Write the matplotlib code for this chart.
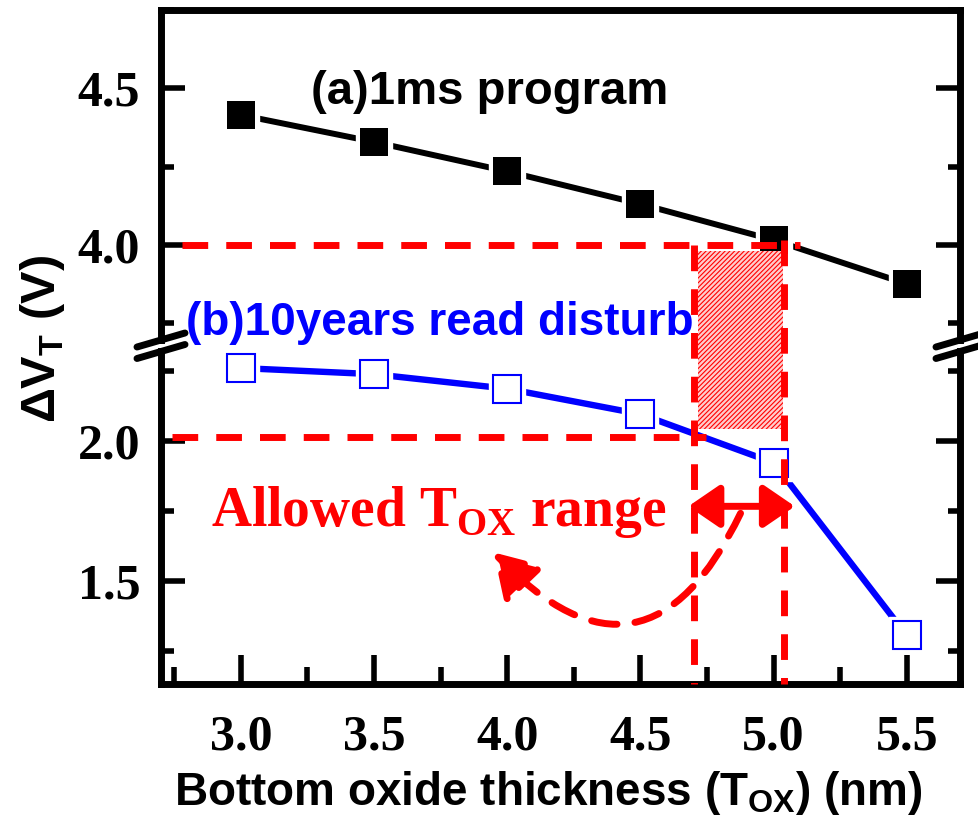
import matplotlib
matplotlib.use("Agg")
import matplotlib.pyplot as plt
from matplotlib.lines import Line2D
from matplotlib.patches import Rectangle, FancyArrowPatch
from matplotlib.ticker import MultipleLocator, FormatStrFormatter

# threshold-voltage shift vs. bottom oxide thickness
tox = [3.0, 3.5, 4.0, 4.5, 5.0, 5.5]
dvt_program = [4.415, 4.329, 4.235, 4.131, 4.016, 3.876]   # (a) 1 ms program
dvt_disturb = [2.262, 2.240, 2.188, 2.097, 1.923, 1.305]   # (b) 10 years read disturb

xticks = [3.0, 3.5, 4.0, 4.5, 5.0, 5.5]
yticks_hi = [4.0, 4.5]
yticks_lo = [1.5, 2.0]

# design window
vt_prog_min = 4.0
vt_dist_max = 2.015
tox_min, tox_max = 4.70, 5.04

RED = (1, 0, 0)
BLUE = (0, 0, 1)

plt.rcParams['font.family'] = ['Liberation Sans', 'DejaVu Sans']
plt.rcParams['font.weight'] = 'bold'
plt.rcParams['axes.labelweight'] = 'bold'
plt.rcParams['mathtext.fontset'] = 'custom'
plt.rcParams['mathtext.rm'] = 'Liberation Sans:bold'
plt.rcParams['mathtext.bf'] = 'Liberation Sans:bold'
plt.rcParams['mathtext.sf'] = 'Liberation Serif:bold'
plt.rcParams['hatch.linewidth'] = 0.8

W, H = 979, 832
fig = plt.figure(figsize=(W / 100, H / 100), dpi=100)


def fx(px):
    return px / W


def fy(py):
    return 1 - py / H


# broken y axis: two stacked axes
x0, x1 = 161, 960
ax_hi = fig.add_axes([fx(x0), fy(340), fx(x1) - fx(x0), fy(10) - fy(340)])
ax_lo = fig.add_axes([fx(x0), fy(684), fx(x1) - fx(x0), fy(351) - fy(684)])

for ax in (ax_hi, ax_lo):
    ax.set_facecolor('none')
    ax.set_xlim(2.7, 5.7)
    for s in ax.spines.values():
        s.set_linewidth(5)
    ax.yaxis.set_minor_locator(MultipleLocator(0.25))
    ax.yaxis.set_major_formatter(FormatStrFormatter('%.1f'))
    ax.tick_params(axis='y', which='major', direction='in', length=17, width=4,
                   left=True, right=True, labelsize=36, pad=15,
                   labelfontfamily='Liberation Serif')
    ax.tick_params(axis='y', which='minor', direction='in', length=9, width=4,
                   left=True, right=True)

ax_hi.set_ylim(3.697, 4.75)
ax_hi.set_yticks(yticks_hi)
ax_hi.spines['bottom'].set_visible(False)
ax_hi.tick_params(axis='x', which='both', bottom=False, top=False, labelbottom=False)

ax_lo.set_ylim(1.131, 2.323)
ax_lo.set_yticks(yticks_lo)
ax_lo.spines['top'].set_visible(False)
ax_lo.set_xticks(xticks)
ax_lo.xaxis.set_minor_locator(MultipleLocator(0.25))
ax_lo.xaxis.set_major_formatter(FormatStrFormatter('%.1f'))
ax_lo.tick_params(axis='x', which='major', direction='in', length=21, width=4,
                  top=False, labelsize=36, pad=22, labelfontfamily='Liberation Serif')
ax_lo.tick_params(axis='x', which='minor', direction='in', length=12, width=4, top=False)

# data: line, white gap around each symbol, then the symbol
ax_hi.plot(tox, dvt_program, color='k', lw=4.3, solid_capstyle='round', zorder=2)
ax_hi.plot(tox, dvt_program, ls='none', marker='s', ms=26, mfc='white', mec='white', zorder=2.1)
ax_hi.plot(tox, dvt_program, ls='none', marker='s', ms=20, color='k', mew=0, zorder=2.2)

ax_lo.plot(tox, dvt_disturb, color=BLUE, lw=4.6, solid_capstyle='round', zorder=2)
ax_lo.plot(tox, dvt_disturb, ls='none', marker='s', ms=26, mfc='white', mec='white', zorder=2.1)
ax_lo.plot(tox, dvt_disturb, ls='none', marker='s', ms=19.5, mfc='white', mec=BLUE,
           mew=1.5, zorder=2.2)


def hi_to_lo(y):
    disp = ax_hi.transData.transform((0, y))
    return ax_lo.transData.inverted().transform(disp)[1]


dash = dict(color=RED, lw=5, dashes=(3.7, 2.6), zorder=4)
ax_hi.plot([2.78, 5.10], [vt_prog_min, vt_prog_min], **dash)
ax_lo.plot([2.74, 4.745], [vt_dist_max, vt_dist_max], **dash)
ylo = ax_lo.get_ylim()[0]
ax_lo.plot([tox_min, tox_min], [hi_to_lo(vt_prog_min), ylo], clip_on=False, **dash)
ax_lo.plot([tox_max, tox_max], [hi_to_lo(vt_prog_min + 0.015), ylo], clip_on=False, **dash)

# allowed window (hatched), spanning the axis break
r_bot = 2.043
r_top = hi_to_lo(3.98)
ax_lo.add_patch(Rectangle((4.715, r_bot), 0.32, r_top - r_bot, facecolor='#ffcccc',
                          edgecolor=RED, lw=0, hatch='///////', clip_on=False, zorder=3))

# double arrow marking the allowed range
ax_lo.annotate('', xy=(4.68, 1.767), xytext=(5.08, 1.767),
               arrowprops=dict(arrowstyle='<|-|>,head_length=0.95,head_width=0.65',
                               color=RED, lw=5, shrinkA=0, shrinkB=0,
                               mutation_scale=20), zorder=5)

ax_lo.add_patch(FancyArrowPatch((4.876, 1.742), (3.949, 1.602),
                                connectionstyle='arc3,rad=-0.72',
                                arrowstyle='-|>,head_length=1.3,head_width=0.8',
                                mutation_scale=20, color=RED, lw=5,
                                linestyle=(0, (3.7, 2.6)), shrinkA=0, shrinkB=0,
                                zorder=5))

ax_lo.text(2.887, 1.695, r'Allowed T$_{\mathsf{OX}}$ range', family='Liberation Serif',
           fontsize=40, color=RED, ha='left', va='baseline')
ax_hi.text(3.263, 4.487, '(a)1ms program', fontsize=34, color='k', ha='left', va='center')
ax_hi.text(2.794, 3.75, '(b)10years read disturb', fontsize=33, color=BLUE,
           ha='left', va='center')

ax_lo.set_xlabel(r'Bottom oxide thickness (T$_{\mathrm{OX}}$) (nm)', fontsize=33)
ax_lo.xaxis.set_label_coords((548 - x0) / (x1 - x0), -0.255)
ax_lo.set_ylabel(r'ΔV$_{\mathrm{T}}$ (V)', fontsize=35)
ax_lo.yaxis.set_label_coords(-0.118, (684 - 339) / (684 - 351))

# break marks on both spines
for xs in (x0, x1):
    for yc in (340, 351.5):
        fig.add_artist(Line2D([fx(xs - 24), fx(xs + 24)], [fy(yc + 7), fy(yc - 7)],
                              transform=fig.transFigure, color='k', lw=5,
                              solid_capstyle='round'))

fig.savefig('out.png', dpi=100)
